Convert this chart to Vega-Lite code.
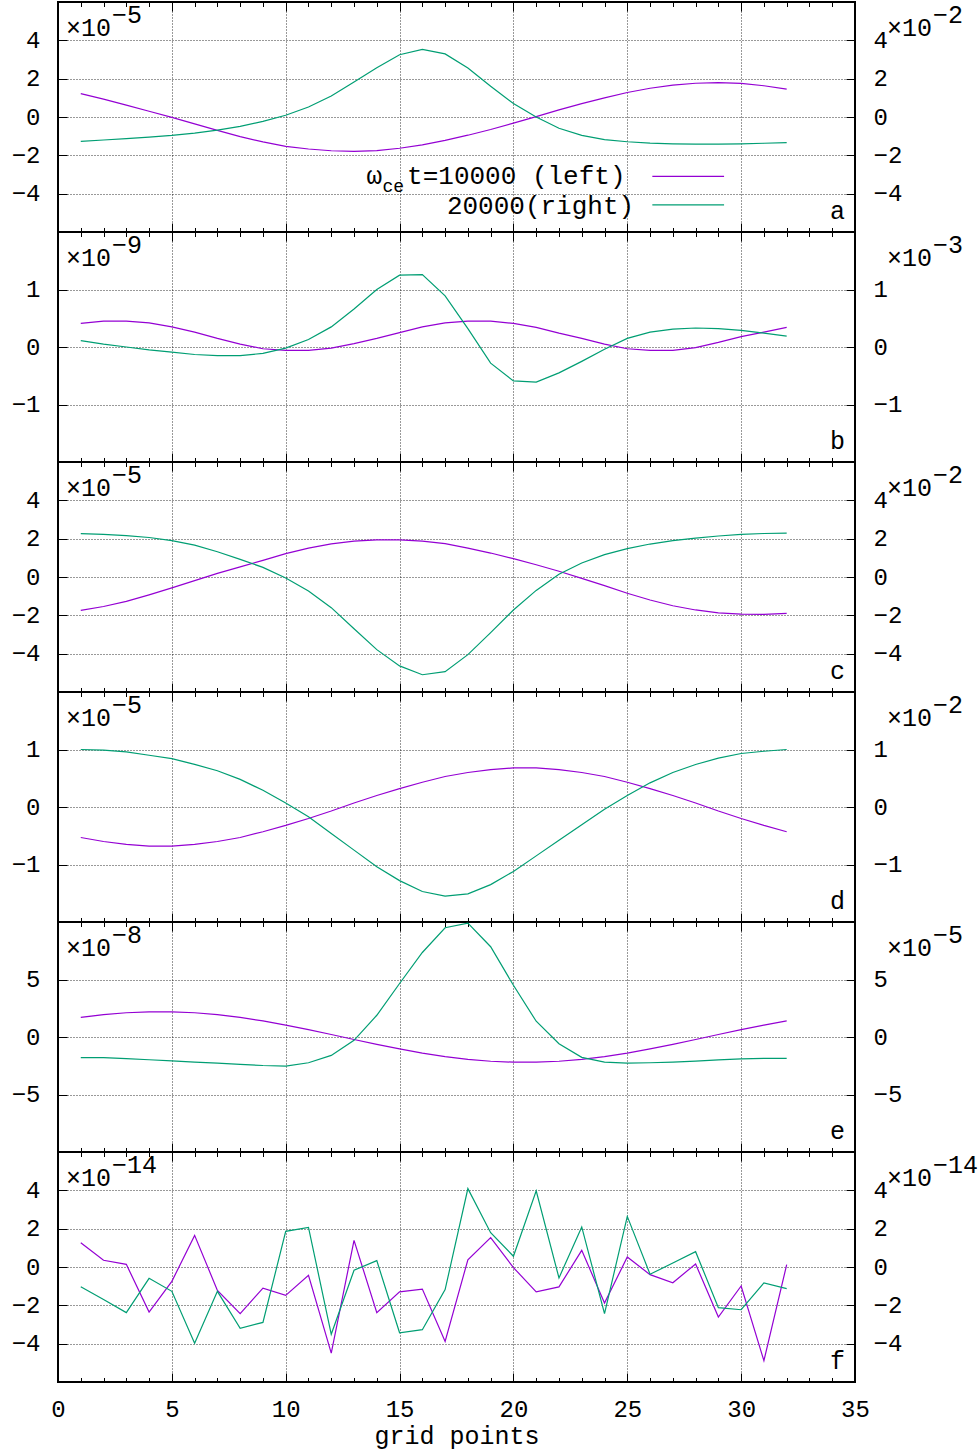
{
"$schema": "https://vega.github.io/schema/vega-lite/v6.json",
"background": "white",
"padding": {"left": 10, "top": 0, "right": 5, "bottom": 5},
"spacing": 0,
"bounds": "flush",
"datasets": {
"s": [
{"p":"a","x":1,"L":1.22,"R":-1.27},{"p":"a","x":2,"L":0.93,"R":-1.20},{"p":"a","x":3,"L":0.62,"R":-1.13},{"p":"a","x":4,"L":0.30,"R":-1.05},
{"p":"a","x":5,"L":-0.02,"R":-0.96},{"p":"a","x":6,"L":-0.36,"R":-0.84},{"p":"a","x":7,"L":-0.70,"R":-0.68},{"p":"a","x":8,"L":-1.02,"R":-0.49},
{"p":"a","x":9,"L":-1.30,"R":-0.23},{"p":"a","x":10,"L":-1.53,"R":0.09},{"p":"a","x":11,"L":-1.67,"R":0.52},{"p":"a","x":12,"L":-1.76,"R":1.10},
{"p":"a","x":13,"L":-1.79,"R":1.83},{"p":"a","x":14,"L":-1.75,"R":2.57},{"p":"a","x":15,"L":-1.63,"R":3.25},{"p":"a","x":16,"L":-1.45,"R":3.53},
{"p":"a","x":17,"L":-1.22,"R":3.29},{"p":"a","x":18,"L":-0.95,"R":2.56},{"p":"a","x":19,"L":-0.65,"R":1.60},{"p":"a","x":20,"L":-0.32,"R":0.70},
{"p":"a","x":21,"L":0.02,"R":0.00},{"p":"a","x":22,"L":0.37,"R":-0.59},{"p":"a","x":23,"L":0.70,"R":-0.96},{"p":"a","x":24,"L":1.00,"R":-1.18},
{"p":"a","x":25,"L":1.28,"R":-1.29},{"p":"a","x":26,"L":1.50,"R":-1.36},{"p":"a","x":27,"L":1.66,"R":-1.40},{"p":"a","x":28,"L":1.76,"R":-1.42},
{"p":"a","x":29,"L":1.79,"R":-1.42},{"p":"a","x":30,"L":1.75,"R":-1.40},{"p":"a","x":31,"L":1.63,"R":-1.37},{"p":"a","x":32,"L":1.45,"R":-1.34},
{"p":"b","x":1,"L":0.41,"R":0.11},{"p":"b","x":2,"L":0.45,"R":0.05},{"p":"b","x":3,"L":0.45,"R":0.00},{"p":"b","x":4,"L":0.42,"R":-0.05},
{"p":"b","x":5,"L":0.35,"R":-0.09},{"p":"b","x":6,"L":0.26,"R":-0.13},{"p":"b","x":7,"L":0.15,"R":-0.15},{"p":"b","x":8,"L":0.05,"R":-0.15},
{"p":"b","x":9,"L":-0.03,"R":-0.11},{"p":"b","x":10,"L":-0.06,"R":-0.02},{"p":"b","x":11,"L":-0.06,"R":0.13},{"p":"b","x":12,"L":-0.02,"R":0.35},
{"p":"b","x":13,"L":0.06,"R":0.66},{"p":"b","x":14,"L":0.15,"R":1.00},{"p":"b","x":15,"L":0.25,"R":1.25},{"p":"b","x":16,"L":0.35,"R":1.26},
{"p":"b","x":17,"L":0.42,"R":0.89},{"p":"b","x":18,"L":0.45,"R":0.32},{"p":"b","x":19,"L":0.45,"R":-0.28},{"p":"b","x":20,"L":0.41,"R":-0.59},
{"p":"b","x":21,"L":0.34,"R":-0.61},{"p":"b","x":22,"L":0.24,"R":-0.45},{"p":"b","x":23,"L":0.15,"R":-0.25},{"p":"b","x":24,"L":0.05,"R":-0.04},
{"p":"b","x":25,"L":-0.03,"R":0.15},{"p":"b","x":26,"L":-0.06,"R":0.26},{"p":"b","x":27,"L":-0.06,"R":0.31},{"p":"b","x":28,"L":-0.01,"R":0.33},
{"p":"b","x":29,"L":0.08,"R":0.32},{"p":"b","x":30,"L":0.18,"R":0.29},{"p":"b","x":31,"L":0.26,"R":0.24},{"p":"b","x":32,"L":0.34,"R":0.19},
{"p":"c","x":1,"L":-1.74,"R":2.26},{"p":"c","x":2,"L":-1.54,"R":2.22},{"p":"c","x":3,"L":-1.27,"R":2.16},{"p":"c","x":4,"L":-0.93,"R":2.06},
{"p":"c","x":5,"L":-0.57,"R":1.90},{"p":"c","x":6,"L":-0.19,"R":1.66},{"p":"c","x":7,"L":0.19,"R":1.32},{"p":"c","x":8,"L":0.53,"R":0.92},
{"p":"c","x":9,"L":0.87,"R":0.50},{"p":"c","x":10,"L":1.22,"R":-0.05},{"p":"c","x":11,"L":1.51,"R":-0.73},{"p":"c","x":12,"L":1.73,"R":-1.60},
{"p":"c","x":13,"L":1.87,"R":-2.70},{"p":"c","x":14,"L":1.94,"R":-3.79},{"p":"c","x":15,"L":1.94,"R":-4.64},{"p":"c","x":16,"L":1.87,"R":-5.10},
{"p":"c","x":17,"L":1.74,"R":-4.94},{"p":"c","x":18,"L":1.51,"R":-4.05},{"p":"c","x":19,"L":1.25,"R":-2.90},{"p":"c","x":20,"L":0.96,"R":-1.72},
{"p":"c","x":21,"L":0.64,"R":-0.70},{"p":"c","x":22,"L":0.30,"R":0.14},{"p":"c","x":23,"L":-0.07,"R":0.73},{"p":"c","x":24,"L":-0.45,"R":1.17},
{"p":"c","x":25,"L":-0.85,"R":1.48},{"p":"c","x":26,"L":-1.20,"R":1.72},{"p":"c","x":27,"L":-1.50,"R":1.90},{"p":"c","x":28,"L":-1.72,"R":2.03},
{"p":"c","x":29,"L":-1.87,"R":2.14},{"p":"c","x":30,"L":-1.94,"R":2.22},{"p":"c","x":31,"L":-1.95,"R":2.27},{"p":"c","x":32,"L":-1.90,"R":2.29},
{"p":"d","x":1,"L":-0.53,"R":1.00},{"p":"d","x":2,"L":-0.60,"R":0.99},{"p":"d","x":3,"L":-0.65,"R":0.96},{"p":"d","x":4,"L":-0.68,"R":0.90},
{"p":"d","x":5,"L":-0.68,"R":0.84},{"p":"d","x":6,"L":-0.65,"R":0.74},{"p":"d","x":7,"L":-0.60,"R":0.63},{"p":"d","x":8,"L":-0.53,"R":0.48},
{"p":"d","x":9,"L":-0.43,"R":0.29},{"p":"d","x":10,"L":-0.32,"R":0.07},{"p":"d","x":11,"L":-0.20,"R":-0.17},{"p":"d","x":12,"L":-0.07,"R":-0.46},
{"p":"d","x":13,"L":0.07,"R":-0.75},{"p":"d","x":14,"L":0.20,"R":-1.04},{"p":"d","x":15,"L":0.32,"R":-1.28},{"p":"d","x":16,"L":0.43,"R":-1.47},
{"p":"d","x":17,"L":0.53,"R":-1.55},{"p":"d","x":18,"L":0.60,"R":-1.51},{"p":"d","x":19,"L":0.65,"R":-1.35},{"p":"d","x":20,"L":0.68,"R":-1.12},
{"p":"d","x":21,"L":0.68,"R":-0.85},{"p":"d","x":22,"L":0.65,"R":-0.58},{"p":"d","x":23,"L":0.60,"R":-0.31},{"p":"d","x":24,"L":0.53,"R":-0.04},
{"p":"d","x":25,"L":0.43,"R":0.20},{"p":"d","x":26,"L":0.32,"R":0.42},{"p":"d","x":27,"L":0.20,"R":0.60},{"p":"d","x":28,"L":0.07,"R":0.74},
{"p":"d","x":29,"L":-0.07,"R":0.85},{"p":"d","x":30,"L":-0.20,"R":0.93},{"p":"d","x":31,"L":-0.32,"R":0.97},{"p":"d","x":32,"L":-0.43,"R":1.00},
{"p":"e","x":1,"L":1.70,"R":-1.80},{"p":"e","x":2,"L":1.94,"R":-1.80},{"p":"e","x":3,"L":2.11,"R":-1.88},{"p":"e","x":4,"L":2.19,"R":-1.98},
{"p":"e","x":5,"L":2.19,"R":-2.08},{"p":"e","x":6,"L":2.11,"R":-2.18},{"p":"e","x":7,"L":1.94,"R":-2.28},{"p":"e","x":8,"L":1.70,"R":-2.38},
{"p":"e","x":9,"L":1.40,"R":-2.48},{"p":"e","x":10,"L":1.04,"R":-2.53},{"p":"e","x":11,"L":0.64,"R":-2.24},{"p":"e","x":12,"L":0.22,"R":-1.60},
{"p":"e","x":13,"L":-0.22,"R":-0.29},{"p":"e","x":14,"L":-0.64,"R":1.89},{"p":"e","x":15,"L":-1.04,"R":4.65},{"p":"e","x":16,"L":-1.40,"R":7.35},
{"p":"e","x":17,"L":-1.70,"R":9.50},{"p":"e","x":18,"L":-1.94,"R":9.90},{"p":"e","x":19,"L":-2.11,"R":7.85},{"p":"e","x":20,"L":-2.19,"R":4.50},
{"p":"e","x":21,"L":-2.19,"R":1.37},{"p":"e","x":22,"L":-2.11,"R":-0.58},{"p":"e","x":23,"L":-1.94,"R":-1.77},{"p":"e","x":24,"L":-1.70,"R":-2.18},
{"p":"e","x":25,"L":-1.40,"R":-2.27},{"p":"e","x":26,"L":-1.04,"R":-2.24},{"p":"e","x":27,"L":-0.64,"R":-2.18},{"p":"e","x":28,"L":-0.22,"R":-2.09},
{"p":"e","x":29,"L":0.22,"R":-1.99},{"p":"e","x":30,"L":0.64,"R":-1.90},{"p":"e","x":31,"L":1.04,"R":-1.86},{"p":"e","x":32,"L":1.40,"R":-1.86},
{"p":"f","x":1,"L":1.27,"R":-1.03},{"p":"f","x":2,"L":0.35,"R":-1.70},{"p":"f","x":3,"L":0.14,"R":-2.38},{"p":"f","x":4,"L":-2.35,"R":-0.59},
{"p":"f","x":5,"L":-0.75,"R":-1.27},{"p":"f","x":6,"L":1.65,"R":-3.98},{"p":"f","x":7,"L":-1.22,"R":-1.27},{"p":"f","x":8,"L":-2.43,"R":-3.20},
{"p":"f","x":9,"L":-1.10,"R":-2.89},{"p":"f","x":10,"L":-1.48,"R":1.86},{"p":"f","x":11,"L":-0.43,"R":2.07},{"p":"f","x":12,"L":-4.49,"R":-3.51},
{"p":"f","x":13,"L":1.39,"R":-0.17},{"p":"f","x":14,"L":-2.38,"R":0.33},{"p":"f","x":15,"L":-1.30,"R":-3.43},{"p":"f","x":16,"L":-1.15,"R":-3.27},
{"p":"f","x":17,"L":-3.88,"R":-1.18},{"p":"f","x":18,"L":0.38,"R":4.09},{"p":"f","x":19,"L":1.53,"R":1.79},{"p":"f","x":20,"L":-0.03,"R":0.56},
{"p":"f","x":21,"L":-1.30,"R":3.97},{"p":"f","x":22,"L":-1.04,"R":-0.57},{"p":"f","x":23,"L":0.87,"R":2.09},{"p":"f","x":24,"L":-1.88,"R":-2.43},
{"p":"f","x":25,"L":0.52,"R":2.64},{"p":"f","x":26,"L":-0.40,"R":-0.38},{"p":"f","x":27,"L":-0.82,"R":0.21},{"p":"f","x":28,"L":0.16,"R":0.80},
{"p":"f","x":29,"L":-2.61,"R":-2.12},{"p":"f","x":30,"L":-0.99,"R":-2.23},{"p":"f","x":31,"L":-4.89,"R":-0.83},{"p":"f","x":32,"L":0.12,"R":-1.13}
]
},
"vconcat": [
{
"width": 797, "height": 230,
"resolve": {"scale": {"y": "independent"}, "axis": {"x": "independent", "y": "independent"}},
"layer": [
{"data": {"name": "s"}, "transform": [{"filter": "datum.p == 'a'"}],
 "mark": {"type": "line", "color": "#9400d3", "strokeWidth": 1.2},
 "encoding": {
  "x": {"field": "x", "type": "quantitative", "scale": {"domain": [0, 35], "nice": false}, "axis": {"orient": "bottom", "values": [0,5,10,15,20,25,30,35], "grid": true, "tickSize": -9, "labels": false, "title": null}},
  "y": {"field": "L", "type": "quantitative", "scale": {"domain": [-6, 6], "nice": false}, "axis": {"orient": "left", "values": [-4,-2,0,2,4], "grid": true, "tickSize": -9, "labelPadding": 27, "title": null}}}},
{"data": {"name": "s"}, "transform": [{"filter": "datum.p == 'a'"}],
 "mark": {"type": "line", "color": "#009e73", "strokeWidth": 1.2},
 "encoding": {
  "x": {"field": "x", "type": "quantitative", "scale": {"domain": [0, 35], "nice": false}, "axis": {"orient": "top", "values": [0,5,10,15,20,25,30,35], "grid": false, "tickSize": -9, "labels": false, "title": null}},
  "y": {"field": "R", "type": "quantitative", "scale": {"domain": [-6, 6], "nice": false}, "axis": {"orient": "right", "values": [-4,-2,0,2,4], "grid": false, "tickSize": -9, "labelPadding": 27, "title": null}}}},
{"data": {"values": [{}]}, "mark": {"type": "text", "text": "×10", "align": "left", "baseline": "middle"},
 "encoding": {
  "x": {"datum": 0.35, "type": "quantitative", "scale": {"domain": [0, 35], "nice": false}, "axis": {"orient": "bottom", "values": [0,1,2,3,4,5,6,7,8,9,10,11,12,13,14,15,16,17,18,19,20,21,22,23,24,25,26,27,28,29,30,31,32,33,34,35], "grid": false, "tickSize": -4.5, "labels": false, "title": null}},
  "y": {"datum": 4.64, "type": "quantitative", "scale": {"domain": [-6, 6], "nice": false}, "axis": null}}},
{"data": {"values": [{}]}, "mark": {"type": "text", "text": "−5", "align": "left", "baseline": "middle"},
 "encoding": {
  "x": {"datum": 2.37, "type": "quantitative", "scale": {"domain": [0, 35], "nice": false}, "axis": {"orient": "top", "values": [0,1,2,3,4,5,6,7,8,9,10,11,12,13,14,15,16,17,18,19,20,21,22,23,24,25,26,27,28,29,30,31,32,33,34,35], "grid": false, "tickSize": -4.5, "labels": false, "title": null}},
  "y": {"datum": 5.32, "type": "quantitative", "scale": {"domain": [-6, 6], "nice": false}, "axis": null}}},
{"data": {"values": [{}]}, "mark": {"type": "text", "text": "×10", "align": "left", "baseline": "middle"},
 "encoding": {
  "x": {"datum": 36.4, "type": "quantitative", "scale": {"domain": [0, 35], "nice": false}, "axis": null},
  "y": {"datum": 4.64, "type": "quantitative", "scale": {"domain": [-6, 6], "nice": false}, "axis": null}}},
{"data": {"values": [{}]}, "mark": {"type": "text", "text": "−2", "align": "left", "baseline": "middle"},
 "encoding": {
  "x": {"datum": 38.43, "type": "quantitative", "scale": {"domain": [0, 35], "nice": false}, "axis": null},
  "y": {"datum": 5.32, "type": "quantitative", "scale": {"domain": [-6, 6], "nice": false}, "axis": null}}},
{"data": {"values": [{}]}, "mark": {"type": "text", "text": "a", "align": "right", "baseline": "middle"},
 "encoding": {
  "x": {"datum": 34.56, "type": "quantitative", "scale": {"domain": [0, 35], "nice": false}, "axis": null},
  "y": {"datum": -4.9, "type": "quantitative", "scale": {"domain": [-6, 6], "nice": false}, "axis": null}}},
{"data": {"values": [{}]}, "mark": {"type": "text", "text": "ω", "align": "right", "baseline": "middle", "fontSize": 26},
 "encoding": {
  "x": {"datum": 14.23, "type": "quantitative", "scale": {"domain": [0, 35], "nice": false}, "axis": null},
  "y": {"datum": -3.1, "type": "quantitative", "scale": {"domain": [-6, 6], "nice": false}, "axis": null}}},
{"data": {"values": [{}]}, "mark": {"type": "text", "text": "ce", "align": "left", "baseline": "middle", "fontSize": 18},
 "encoding": {
  "x": {"datum": 14.25, "type": "quantitative", "scale": {"domain": [0, 35], "nice": false}, "axis": null},
  "y": {"datum": -3.63, "type": "quantitative", "scale": {"domain": [-6, 6], "nice": false}, "axis": null}}},
{"data": {"values": [{}]}, "mark": {"type": "text", "text": "t=10000 (left)", "align": "left", "baseline": "middle", "fontSize": 26},
 "encoding": {
  "x": {"datum": 15.33, "type": "quantitative", "scale": {"domain": [0, 35], "nice": false}, "axis": null},
  "y": {"datum": -3.1, "type": "quantitative", "scale": {"domain": [-6, 6], "nice": false}, "axis": null}}},
{"data": {"values": [{}]}, "mark": {"type": "text", "text": "20000(right)", "align": "right", "baseline": "middle", "fontSize": 26},
 "encoding": {
  "x": {"datum": 25.3, "type": "quantitative", "scale": {"domain": [0, 35], "nice": false}, "axis": null},
  "y": {"datum": -4.62, "type": "quantitative", "scale": {"domain": [-6, 6], "nice": false}, "axis": null}}},
{"data": {"values": [{}]}, "mark": {"type": "rule", "color": "#9400d3", "strokeWidth": 1.2},
 "encoding": {
  "x": {"datum": 26.1, "type": "quantitative", "scale": {"domain": [0, 35], "nice": false}, "axis": null},
  "x2": {"datum": 29.25},
  "y": {"datum": -3.1, "type": "quantitative", "scale": {"domain": [-6, 6], "nice": false}, "axis": null}}},
{"data": {"values": [{}]}, "mark": {"type": "rule", "color": "#009e73", "strokeWidth": 1.2},
 "encoding": {
  "x": {"datum": 26.1, "type": "quantitative", "scale": {"domain": [0, 35], "nice": false}, "axis": null},
  "x2": {"datum": 29.25},
  "y": {"datum": -4.58, "type": "quantitative", "scale": {"domain": [-6, 6], "nice": false}, "axis": null}}}
]
},
{
"width": 797, "height": 230,
"resolve": {"scale": {"y": "independent"}, "axis": {"x": "independent", "y": "independent"}},
"layer": [
{"data": {"name": "s"}, "transform": [{"filter": "datum.p == 'b'"}],
 "mark": {"type": "line", "color": "#9400d3", "strokeWidth": 1.2},
 "encoding": {
  "x": {"field": "x", "type": "quantitative", "scale": {"domain": [0, 35], "nice": false}, "axis": {"orient": "bottom", "values": [0,5,10,15,20,25,30,35], "grid": true, "tickSize": -9, "labels": false, "title": null}},
  "y": {"field": "L", "type": "quantitative", "scale": {"domain": [-2, 2], "nice": false}, "axis": {"orient": "left", "values": [-1,0,1], "grid": true, "tickSize": -9, "labelPadding": 27, "title": null}}}},
{"data": {"name": "s"}, "transform": [{"filter": "datum.p == 'b'"}],
 "mark": {"type": "line", "color": "#009e73", "strokeWidth": 1.2},
 "encoding": {
  "x": {"field": "x", "type": "quantitative", "scale": {"domain": [0, 35], "nice": false}, "axis": {"orient": "top", "values": [0,5,10,15,20,25,30,35], "grid": false, "tickSize": -9, "labels": false, "title": null}},
  "y": {"field": "R", "type": "quantitative", "scale": {"domain": [-2, 2], "nice": false}, "axis": {"orient": "right", "values": [-1,0,1], "grid": false, "tickSize": -9, "labelPadding": 27, "title": null}}}},
{"data": {"values": [{}]}, "mark": {"type": "text", "text": "×10", "align": "left", "baseline": "middle"},
 "encoding": {
  "x": {"datum": 0.35, "type": "quantitative", "scale": {"domain": [0, 35], "nice": false}, "axis": {"orient": "bottom", "values": [0,1,2,3,4,5,6,7,8,9,10,11,12,13,14,15,16,17,18,19,20,21,22,23,24,25,26,27,28,29,30,31,32,33,34,35], "grid": false, "tickSize": -4.5, "labels": false, "title": null}},
  "y": {"datum": 1.55, "type": "quantitative", "scale": {"domain": [-2, 2], "nice": false}, "axis": null}}},
{"data": {"values": [{}]}, "mark": {"type": "text", "text": "−9", "align": "left", "baseline": "middle"},
 "encoding": {
  "x": {"datum": 2.37, "type": "quantitative", "scale": {"domain": [0, 35], "nice": false}, "axis": {"orient": "top", "values": [0,1,2,3,4,5,6,7,8,9,10,11,12,13,14,15,16,17,18,19,20,21,22,23,24,25,26,27,28,29,30,31,32,33,34,35], "grid": false, "tickSize": -4.5, "labels": false, "title": null}},
  "y": {"datum": 1.774, "type": "quantitative", "scale": {"domain": [-2, 2], "nice": false}, "axis": null}}},
{"data": {"values": [{}]}, "mark": {"type": "text", "text": "×10", "align": "left", "baseline": "middle"},
 "encoding": {
  "x": {"datum": 36.4, "type": "quantitative", "scale": {"domain": [0, 35], "nice": false}, "axis": null},
  "y": {"datum": 1.55, "type": "quantitative", "scale": {"domain": [-2, 2], "nice": false}, "axis": null}}},
{"data": {"values": [{}]}, "mark": {"type": "text", "text": "−3", "align": "left", "baseline": "middle"},
 "encoding": {
  "x": {"datum": 38.43, "type": "quantitative", "scale": {"domain": [0, 35], "nice": false}, "axis": null},
  "y": {"datum": 1.774, "type": "quantitative", "scale": {"domain": [-2, 2], "nice": false}, "axis": null}}},
{"data": {"values": [{}]}, "mark": {"type": "text", "text": "b", "align": "right", "baseline": "middle"},
 "encoding": {
  "x": {"datum": 34.56, "type": "quantitative", "scale": {"domain": [0, 35], "nice": false}, "axis": null},
  "y": {"datum": -1.63, "type": "quantitative", "scale": {"domain": [-2, 2], "nice": false}, "axis": null}}}
]
},
{
"width": 797, "height": 230,
"resolve": {"scale": {"y": "independent"}, "axis": {"x": "independent", "y": "independent"}},
"layer": [
{"data": {"name": "s"}, "transform": [{"filter": "datum.p == 'c'"}],
 "mark": {"type": "line", "color": "#9400d3", "strokeWidth": 1.2},
 "encoding": {
  "x": {"field": "x", "type": "quantitative", "scale": {"domain": [0, 35], "nice": false}, "axis": {"orient": "bottom", "values": [0,5,10,15,20,25,30,35], "grid": true, "tickSize": -9, "labels": false, "title": null}},
  "y": {"field": "L", "type": "quantitative", "scale": {"domain": [-6, 6], "nice": false}, "axis": {"orient": "left", "values": [-4,-2,0,2,4], "grid": true, "tickSize": -9, "labelPadding": 27, "title": null}}}},
{"data": {"name": "s"}, "transform": [{"filter": "datum.p == 'c'"}],
 "mark": {"type": "line", "color": "#009e73", "strokeWidth": 1.2},
 "encoding": {
  "x": {"field": "x", "type": "quantitative", "scale": {"domain": [0, 35], "nice": false}, "axis": {"orient": "top", "values": [0,5,10,15,20,25,30,35], "grid": false, "tickSize": -9, "labels": false, "title": null}},
  "y": {"field": "R", "type": "quantitative", "scale": {"domain": [-6, 6], "nice": false}, "axis": {"orient": "right", "values": [-4,-2,0,2,4], "grid": false, "tickSize": -9, "labelPadding": 27, "title": null}}}},
{"data": {"values": [{}]}, "mark": {"type": "text", "text": "×10", "align": "left", "baseline": "middle"},
 "encoding": {
  "x": {"datum": 0.35, "type": "quantitative", "scale": {"domain": [0, 35], "nice": false}, "axis": {"orient": "bottom", "values": [0,1,2,3,4,5,6,7,8,9,10,11,12,13,14,15,16,17,18,19,20,21,22,23,24,25,26,27,28,29,30,31,32,33,34,35], "grid": false, "tickSize": -4.5, "labels": false, "title": null}},
  "y": {"datum": 4.64, "type": "quantitative", "scale": {"domain": [-6, 6], "nice": false}, "axis": null}}},
{"data": {"values": [{}]}, "mark": {"type": "text", "text": "−5", "align": "left", "baseline": "middle"},
 "encoding": {
  "x": {"datum": 2.37, "type": "quantitative", "scale": {"domain": [0, 35], "nice": false}, "axis": {"orient": "top", "values": [0,1,2,3,4,5,6,7,8,9,10,11,12,13,14,15,16,17,18,19,20,21,22,23,24,25,26,27,28,29,30,31,32,33,34,35], "grid": false, "tickSize": -4.5, "labels": false, "title": null}},
  "y": {"datum": 5.32, "type": "quantitative", "scale": {"domain": [-6, 6], "nice": false}, "axis": null}}},
{"data": {"values": [{}]}, "mark": {"type": "text", "text": "×10", "align": "left", "baseline": "middle"},
 "encoding": {
  "x": {"datum": 36.4, "type": "quantitative", "scale": {"domain": [0, 35], "nice": false}, "axis": null},
  "y": {"datum": 4.64, "type": "quantitative", "scale": {"domain": [-6, 6], "nice": false}, "axis": null}}},
{"data": {"values": [{}]}, "mark": {"type": "text", "text": "−2", "align": "left", "baseline": "middle"},
 "encoding": {
  "x": {"datum": 38.43, "type": "quantitative", "scale": {"domain": [0, 35], "nice": false}, "axis": null},
  "y": {"datum": 5.32, "type": "quantitative", "scale": {"domain": [-6, 6], "nice": false}, "axis": null}}},
{"data": {"values": [{}]}, "mark": {"type": "text", "text": "c", "align": "right", "baseline": "middle"},
 "encoding": {
  "x": {"datum": 34.56, "type": "quantitative", "scale": {"domain": [0, 35], "nice": false}, "axis": null},
  "y": {"datum": -4.9, "type": "quantitative", "scale": {"domain": [-6, 6], "nice": false}, "axis": null}}}
]
},
{
"width": 797, "height": 230,
"resolve": {"scale": {"y": "independent"}, "axis": {"x": "independent", "y": "independent"}},
"layer": [
{"data": {"name": "s"}, "transform": [{"filter": "datum.p == 'd'"}],
 "mark": {"type": "line", "color": "#9400d3", "strokeWidth": 1.2},
 "encoding": {
  "x": {"field": "x", "type": "quantitative", "scale": {"domain": [0, 35], "nice": false}, "axis": {"orient": "bottom", "values": [0,5,10,15,20,25,30,35], "grid": true, "tickSize": -9, "labels": false, "title": null}},
  "y": {"field": "L", "type": "quantitative", "scale": {"domain": [-2, 2], "nice": false}, "axis": {"orient": "left", "values": [-1,0,1], "grid": true, "tickSize": -9, "labelPadding": 27, "title": null}}}},
{"data": {"name": "s"}, "transform": [{"filter": "datum.p == 'd'"}],
 "mark": {"type": "line", "color": "#009e73", "strokeWidth": 1.2},
 "encoding": {
  "x": {"field": "x", "type": "quantitative", "scale": {"domain": [0, 35], "nice": false}, "axis": {"orient": "top", "values": [0,5,10,15,20,25,30,35], "grid": false, "tickSize": -9, "labels": false, "title": null}},
  "y": {"field": "R", "type": "quantitative", "scale": {"domain": [-2, 2], "nice": false}, "axis": {"orient": "right", "values": [-1,0,1], "grid": false, "tickSize": -9, "labelPadding": 27, "title": null}}}},
{"data": {"values": [{}]}, "mark": {"type": "text", "text": "×10", "align": "left", "baseline": "middle"},
 "encoding": {
  "x": {"datum": 0.35, "type": "quantitative", "scale": {"domain": [0, 35], "nice": false}, "axis": {"orient": "bottom", "values": [0,1,2,3,4,5,6,7,8,9,10,11,12,13,14,15,16,17,18,19,20,21,22,23,24,25,26,27,28,29,30,31,32,33,34,35], "grid": false, "tickSize": -4.5, "labels": false, "title": null}},
  "y": {"datum": 1.55, "type": "quantitative", "scale": {"domain": [-2, 2], "nice": false}, "axis": null}}},
{"data": {"values": [{}]}, "mark": {"type": "text", "text": "−5", "align": "left", "baseline": "middle"},
 "encoding": {
  "x": {"datum": 2.37, "type": "quantitative", "scale": {"domain": [0, 35], "nice": false}, "axis": {"orient": "top", "values": [0,1,2,3,4,5,6,7,8,9,10,11,12,13,14,15,16,17,18,19,20,21,22,23,24,25,26,27,28,29,30,31,32,33,34,35], "grid": false, "tickSize": -4.5, "labels": false, "title": null}},
  "y": {"datum": 1.774, "type": "quantitative", "scale": {"domain": [-2, 2], "nice": false}, "axis": null}}},
{"data": {"values": [{}]}, "mark": {"type": "text", "text": "×10", "align": "left", "baseline": "middle"},
 "encoding": {
  "x": {"datum": 36.4, "type": "quantitative", "scale": {"domain": [0, 35], "nice": false}, "axis": null},
  "y": {"datum": 1.55, "type": "quantitative", "scale": {"domain": [-2, 2], "nice": false}, "axis": null}}},
{"data": {"values": [{}]}, "mark": {"type": "text", "text": "−2", "align": "left", "baseline": "middle"},
 "encoding": {
  "x": {"datum": 38.43, "type": "quantitative", "scale": {"domain": [0, 35], "nice": false}, "axis": null},
  "y": {"datum": 1.774, "type": "quantitative", "scale": {"domain": [-2, 2], "nice": false}, "axis": null}}},
{"data": {"values": [{}]}, "mark": {"type": "text", "text": "d", "align": "right", "baseline": "middle"},
 "encoding": {
  "x": {"datum": 34.56, "type": "quantitative", "scale": {"domain": [0, 35], "nice": false}, "axis": null},
  "y": {"datum": -1.63, "type": "quantitative", "scale": {"domain": [-2, 2], "nice": false}, "axis": null}}}
]
},
{
"width": 797, "height": 230,
"resolve": {"scale": {"y": "independent"}, "axis": {"x": "independent", "y": "independent"}},
"layer": [
{"data": {"name": "s"}, "transform": [{"filter": "datum.p == 'e'"}],
 "mark": {"type": "line", "color": "#9400d3", "strokeWidth": 1.2},
 "encoding": {
  "x": {"field": "x", "type": "quantitative", "scale": {"domain": [0, 35], "nice": false}, "axis": {"orient": "bottom", "values": [0,5,10,15,20,25,30,35], "grid": true, "tickSize": -9, "labels": false, "title": null}},
  "y": {"field": "L", "type": "quantitative", "scale": {"domain": [-10, 10], "nice": false}, "axis": {"orient": "left", "values": [-5,0,5], "grid": true, "tickSize": -9, "labelPadding": 27, "title": null}}}},
{"data": {"name": "s"}, "transform": [{"filter": "datum.p == 'e'"}],
 "mark": {"type": "line", "color": "#009e73", "strokeWidth": 1.2},
 "encoding": {
  "x": {"field": "x", "type": "quantitative", "scale": {"domain": [0, 35], "nice": false}, "axis": {"orient": "top", "values": [0,5,10,15,20,25,30,35], "grid": false, "tickSize": -9, "labels": false, "title": null}},
  "y": {"field": "R", "type": "quantitative", "scale": {"domain": [-10, 10], "nice": false}, "axis": {"orient": "right", "values": [-5,0,5], "grid": false, "tickSize": -9, "labelPadding": 27, "title": null}}}},
{"data": {"values": [{}]}, "mark": {"type": "text", "text": "×10", "align": "left", "baseline": "middle"},
 "encoding": {
  "x": {"datum": 0.35, "type": "quantitative", "scale": {"domain": [0, 35], "nice": false}, "axis": {"orient": "bottom", "values": [0,1,2,3,4,5,6,7,8,9,10,11,12,13,14,15,16,17,18,19,20,21,22,23,24,25,26,27,28,29,30,31,32,33,34,35], "grid": false, "tickSize": -4.5, "labels": false, "title": null}},
  "y": {"datum": 7.74, "type": "quantitative", "scale": {"domain": [-10, 10], "nice": false}, "axis": null}}},
{"data": {"values": [{}]}, "mark": {"type": "text", "text": "−8", "align": "left", "baseline": "middle"},
 "encoding": {
  "x": {"datum": 2.37, "type": "quantitative", "scale": {"domain": [0, 35], "nice": false}, "axis": {"orient": "top", "values": [0,1,2,3,4,5,6,7,8,9,10,11,12,13,14,15,16,17,18,19,20,21,22,23,24,25,26,27,28,29,30,31,32,33,34,35], "grid": false, "tickSize": -4.5, "labels": false, "title": null}},
  "y": {"datum": 8.87, "type": "quantitative", "scale": {"domain": [-10, 10], "nice": false}, "axis": null}}},
{"data": {"values": [{}]}, "mark": {"type": "text", "text": "×10", "align": "left", "baseline": "middle"},
 "encoding": {
  "x": {"datum": 36.4, "type": "quantitative", "scale": {"domain": [0, 35], "nice": false}, "axis": null},
  "y": {"datum": 7.74, "type": "quantitative", "scale": {"domain": [-10, 10], "nice": false}, "axis": null}}},
{"data": {"values": [{}]}, "mark": {"type": "text", "text": "−5", "align": "left", "baseline": "middle"},
 "encoding": {
  "x": {"datum": 38.43, "type": "quantitative", "scale": {"domain": [0, 35], "nice": false}, "axis": null},
  "y": {"datum": 8.87, "type": "quantitative", "scale": {"domain": [-10, 10], "nice": false}, "axis": null}}},
{"data": {"values": [{}]}, "mark": {"type": "text", "text": "e", "align": "right", "baseline": "middle"},
 "encoding": {
  "x": {"datum": 34.56, "type": "quantitative", "scale": {"domain": [0, 35], "nice": false}, "axis": null},
  "y": {"datum": -8.17, "type": "quantitative", "scale": {"domain": [-10, 10], "nice": false}, "axis": null}}}
]
},
{
"width": 797, "height": 230,
"resolve": {"scale": {"y": "independent"}, "axis": {"x": "independent", "y": "independent"}},
"layer": [
{"data": {"name": "s"}, "transform": [{"filter": "datum.p == 'f'"}],
 "mark": {"type": "line", "color": "#9400d3", "strokeWidth": 1.2},
 "encoding": {
  "x": {"field": "x", "type": "quantitative", "scale": {"domain": [0, 35], "nice": false}, "axis": {"orient": "bottom", "values": [0,5,10,15,20,25,30,35], "grid": true, "tickSize": -9, "labels": true, "labelPadding": 24, "title": "grid points", "titlePadding": 2}},
  "y": {"field": "L", "type": "quantitative", "scale": {"domain": [-6, 6], "nice": false}, "axis": {"orient": "left", "values": [-4,-2,0,2,4], "grid": true, "tickSize": -9, "labelPadding": 27, "title": null}}}},
{"data": {"name": "s"}, "transform": [{"filter": "datum.p == 'f'"}],
 "mark": {"type": "line", "color": "#009e73", "strokeWidth": 1.2},
 "encoding": {
  "x": {"field": "x", "type": "quantitative", "scale": {"domain": [0, 35], "nice": false}, "axis": {"orient": "top", "values": [0,5,10,15,20,25,30,35], "grid": false, "tickSize": -9, "labels": false, "title": null}},
  "y": {"field": "R", "type": "quantitative", "scale": {"domain": [-6, 6], "nice": false}, "axis": {"orient": "right", "values": [-4,-2,0,2,4], "grid": false, "tickSize": -9, "labelPadding": 27, "title": null}}}},
{"data": {"values": [{}]}, "mark": {"type": "text", "text": "×10", "align": "left", "baseline": "middle"},
 "encoding": {
  "x": {"datum": 0.35, "type": "quantitative", "scale": {"domain": [0, 35], "nice": false}, "axis": {"orient": "bottom", "values": [0,1,2,3,4,5,6,7,8,9,10,11,12,13,14,15,16,17,18,19,20,21,22,23,24,25,26,27,28,29,30,31,32,33,34,35], "grid": false, "tickSize": -4.5, "labels": false, "title": null}},
  "y": {"datum": 4.64, "type": "quantitative", "scale": {"domain": [-6, 6], "nice": false}, "axis": null}}},
{"data": {"values": [{}]}, "mark": {"type": "text", "text": "−14", "align": "left", "baseline": "middle"},
 "encoding": {
  "x": {"datum": 2.37, "type": "quantitative", "scale": {"domain": [0, 35], "nice": false}, "axis": {"orient": "top", "values": [0,1,2,3,4,5,6,7,8,9,10,11,12,13,14,15,16,17,18,19,20,21,22,23,24,25,26,27,28,29,30,31,32,33,34,35], "grid": false, "tickSize": -4.5, "labels": false, "title": null}},
  "y": {"datum": 5.32, "type": "quantitative", "scale": {"domain": [-6, 6], "nice": false}, "axis": null}}},
{"data": {"values": [{}]}, "mark": {"type": "text", "text": "×10", "align": "left", "baseline": "middle"},
 "encoding": {
  "x": {"datum": 36.4, "type": "quantitative", "scale": {"domain": [0, 35], "nice": false}, "axis": null},
  "y": {"datum": 4.64, "type": "quantitative", "scale": {"domain": [-6, 6], "nice": false}, "axis": null}}},
{"data": {"values": [{}]}, "mark": {"type": "text", "text": "−14", "align": "left", "baseline": "middle"},
 "encoding": {
  "x": {"datum": 38.43, "type": "quantitative", "scale": {"domain": [0, 35], "nice": false}, "axis": null},
  "y": {"datum": 5.32, "type": "quantitative", "scale": {"domain": [-6, 6], "nice": false}, "axis": null}}},
{"data": {"values": [{}]}, "mark": {"type": "text", "text": "f", "align": "right", "baseline": "middle"},
 "encoding": {
  "x": {"datum": 34.56, "type": "quantitative", "scale": {"domain": [0, 35], "nice": false}, "axis": null},
  "y": {"datum": -4.9, "type": "quantitative", "scale": {"domain": [-6, 6], "nice": false}, "axis": null}}}
]
}
],
"config": {
 "font": "Liberation Mono",
 "view": {"stroke": "black", "strokeWidth": 2},
 "axis": {"labelFont": "Liberation Mono", "labelFontSize": 24, "labelColor": "black", "tickColor": "black", "tickWidth": 1, "domain": false, "gridColor": "black", "gridDash": [1, 2], "gridOpacity": 0.8, "gridWidth": 1, "labelFlush": false, "labelOverlap": false, "labelBound": false, "labelAngle": 0, "titleFont": "Liberation Mono", "titleFontSize": 25, "titleFontWeight": "normal", "titleColor": "black"},
 "text": {"font": "Liberation Mono", "fontSize": 25, "color": "black"}
}
}
